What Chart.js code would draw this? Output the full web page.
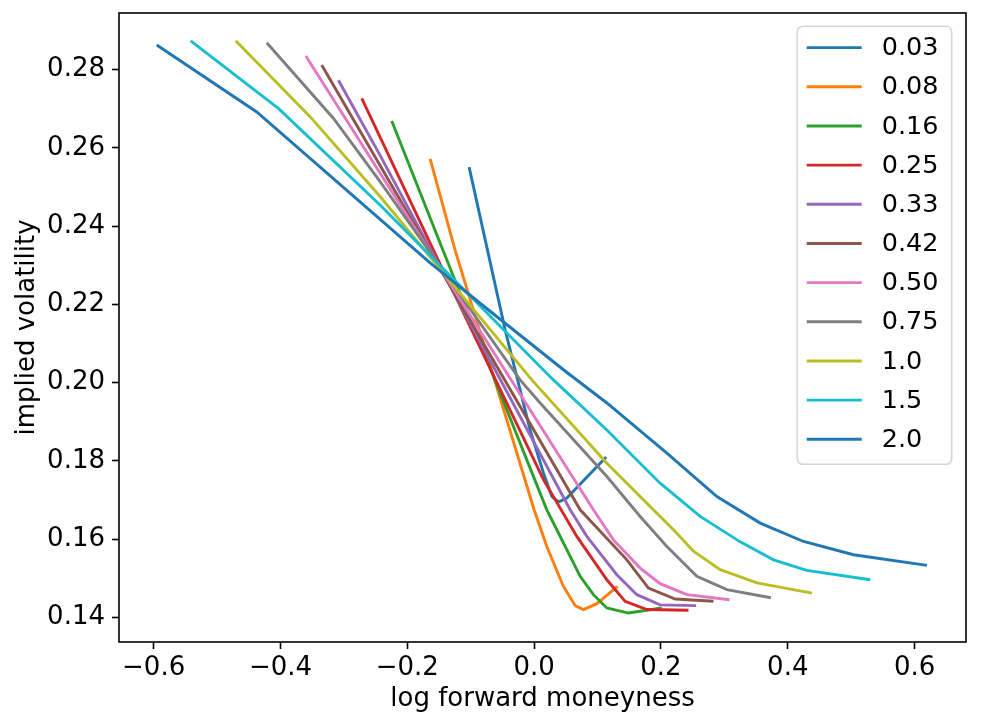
<!DOCTYPE html>
<html>
<head>
<meta charset="utf-8">
<script src="https://cdn.jsdelivr.net/npm/chart.js@4"></script>
<style>
html,body{margin:0;padding:0;background:#fff;}
#wrap{width:1002px;height:722px;position:relative;}
</style>
</head>
<body>
<div id="wrap"><canvas id="c"></canvas></div>
<script>
// ---- data ----
const maturities = ["0.03","0.08","0.16","0.25","0.33","0.42","0.50","0.75","1.0","1.5","2.0"];

const x_003 = [-0.1025,-0.0457,-0.0063,0.0147,0.0279,0.0383,0.0516,0.1136];
const y_003 = [0.2551,0.2135,0.1879,0.1769,0.1709,0.1695,0.1705,0.1810];

const x_008 = [-0.164,-0.1246,0.0,0.02,0.0462,0.0647,0.0778,0.0989,0.1314];
const y_008 = [0.2572,0.2339,0.1675,0.1581,0.1479,0.1430,0.1420,0.1435,0.1479];

const x_016 = [-0.2245,-0.1439,0.02,0.0358,0.0726,0.0935,0.1147,0.1488,0.2014];
const y_016 = [0.2669,0.2339,0.1675,0.1624,0.1505,0.1458,0.1424,0.1411,0.1424];

const x_025 = [-0.2718,-0.1588,0.0147,0.0673,0.1147,0.1435,0.1778,0.2434];
const y_025 = [0.2727,0.2339,0.1752,0.1607,0.1496,0.1441,0.1420,0.1418];

const x_033 = [-0.3086,-0.2429,0.0568,0.0831,0.1304,0.162,0.1987,0.2555];
const y_033 = [0.2773,0.2581,0.1675,0.1607,0.1509,0.1458,0.1432,0.1430];

const x_042 = [-0.335,0.0726,0.0946,0.1462,0.1803,0.2224,0.2828];
const y_042 = [0.2812,0.1675,0.1637,0.1547,0.1475,0.1447,0.1441];

const x_050 = [-0.360,0.0935,0.1251,0.1672,0.1987,0.2408,0.308];
const y_050 = [0.2835,0.1675,0.1598,0.1526,0.1486,0.1458,0.1445];

const x_075 = [-0.4216,-0.3166,-0.2429,-0.0221,0.0095,0.1147,0.1672,0.2093,0.2566,0.3039,0.3733];
const y_075 = [0.2869,0.2676,0.2514,0.2007,0.1948,0.1760,0.1658,0.1581,0.1505,0.1471,0.1450];

const x_100 = [-0.4705,-0.3533,-0.2429,-0.0036,0.1147,0.1672,0.2197,0.2513,0.2934,0.3513,0.438];
const y_100 = [0.2874,0.2680,0.2476,0.2007,0.1794,0.1709,0.1624,0.1569,0.1522,0.1488,0.1462];

const x_150 = [-0.5415,-0.4033,-0.2429,0.0304,0.1147,0.1987,0.2618,0.325,0.3775,0.430,0.530];
const y_150 = [0.2874,0.2701,0.2454,0.2007,0.1879,0.1743,0.1658,0.1593,0.1547,0.1520,0.1496];

const x_200 = [-0.5951,-0.4374,-0.164,-0.0852,0.0462,0.1147,0.2093,0.2882,0.3565,0.4248,0.5036,0.6194];
const y_200 = [0.2863,0.2692,0.2306,0.2203,0.2033,0.1948,0.1820,0.1709,0.1641,0.1594,0.1560,0.1533];

const xTicks = [-0.6,-0.4,-0.2,0.0,0.2,0.4,0.6];
const yTicks = [0.14,0.16,0.18,0.20,0.22,0.24,0.26,0.28];
const xTickLabels = ["\u22120.6","\u22120.4","\u22120.2","0.0","0.2","0.4","0.6"];
const yTickLabels = ["0.14","0.16","0.18","0.20","0.22","0.24","0.26","0.28"];

const colors = ["#1f77b4","#ff7f0e","#2ca02c","#d62728","#9467bd","#8c564b","#e377c2","#7f7f7f","#bcbd22","#17becf","#1f77b4"];

const seriesX = [x_003,x_008,x_016,x_025,x_033,x_042,x_050,x_075,x_100,x_150,x_200];
const seriesY = [y_003,y_008,y_016,y_025,y_033,y_042,y_050,y_075,y_100,y_150,y_200];

const FONT = "'DejaVu Sans', 'Liberation Sans', sans-serif";
const FS = 26;
const LFS = 25.5;
const LW = 2.9;

const datasets = maturities.map((m,i)=>({
  label: m,
  data: seriesX[i].map((x,k)=>({x:x, y:seriesY[i][k]})),
  borderColor: colors[i],
  backgroundColor: colors[i],
  borderWidth: LW,
  pointRadius: 0,
  pointHoverRadius: 0,
  tension: 0,
  fill: false,
  order: maturities.length - i
}));

const framePlugin = {
  id: 'frame',
  afterDatasetsDraw(chart){
    const {ctx, chartArea:a} = chart;
    ctx.save();
    ctx.strokeStyle = '#000';
    ctx.lineWidth = 1.6;
    ctx.strokeRect(a.left, a.top, a.right - a.left, a.bottom - a.top);
    ctx.restore();
  }
};

const legendPlugin = {
  id: 'innerLegend',
  afterDraw(chart){
    const {ctx, chartArea:a} = chart;
    const w = 154.4, h = 438;
    const x0 = a.right - 14.3 - w, y0 = a.top + 13.3;
    const r = 6;
    ctx.save();
    ctx.beginPath();
    ctx.moveTo(x0+r,y0);
    ctx.lineTo(x0+w-r,y0); ctx.quadraticCurveTo(x0+w,y0,x0+w,y0+r);
    ctx.lineTo(x0+w,y0+h-r); ctx.quadraticCurveTo(x0+w,y0+h,x0+w-r,y0+h);
    ctx.lineTo(x0+r,y0+h); ctx.quadraticCurveTo(x0,y0+h,x0,y0+h-r);
    ctx.lineTo(x0,y0+r); ctx.quadraticCurveTo(x0,y0,x0+r,y0);
    ctx.closePath();
    ctx.fillStyle = 'rgba(255,255,255,0.8)';
    ctx.fill();
    ctx.strokeStyle = '#d6d6d6';
    ctx.lineWidth = 1.6;
    ctx.stroke();
    const rowH = 39.17;
    const firstY = y0 + 21.3;
    ctx.font = LFS + "px " + FONT;
    ctx.textBaseline = 'middle';
    ctx.textAlign = 'left';
    chart.data.datasets.forEach((ds,i)=>{
      const yy = firstY + i*rowH;
      ctx.beginPath();
      ctx.strokeStyle = ds.borderColor;
      ctx.lineWidth = LW;
      ctx.moveTo(x0+9.4, yy);
      ctx.lineTo(x0+64.4, yy);
      ctx.stroke();
      ctx.fillStyle = '#000';
      ctx.fillText(ds.label, x0+84.4, yy+1);
    });
    ctx.restore();
  }
};

new Chart(document.getElementById('c'), {
  type: 'line',
  data: { datasets },
  options: {
    responsive: true,
    maintainAspectRatio: false,
    animation: false,
    devicePixelRatio: 1,
    layout: { padding: { top: 13, right: 36, left: 0, bottom: 0 } },
    plugins: { legend: { display: false }, tooltip: { enabled: false } },
    scales: {
      x: {
        type: 'linear',
        min: -0.6546, max: 0.681,
        afterFit(s){ s.height = 80; s.paddingLeft = 0; s.paddingRight = 0; },
        afterBuildTicks(s){ s.ticks = xTicks.map(v=>({value:v})); },
        border: { display: false },
        grid: { display: true, drawOnChartArea: false, drawTicks: true, tickLength: 7, tickWidth: 1.6, tickColor: '#000' },
        ticks: {
          color: '#000', padding: 4, maxRotation: 0, autoSkip: false,
          font: { family: FONT, size: FS },
          callback(v){ const i = xTicks.findIndex(t=>Math.abs(t-v)<1e-9); return i>=0 ? xTickLabels[i] : ''; }
        },
        title: { display: true, text: 'log forward moneyness', color: '#000', font: { family: FONT, size: FS }, padding: { top: 0, bottom: 7 } }
      },
      y: {
        type: 'linear',
        min: 0.1337, max: 0.2945,
        afterFit(s){ s.width = 119; s.paddingTop = 0; s.paddingBottom = 0; },
        afterBuildTicks(s){ s.ticks = yTicks.map(v=>({value:v})); },
        border: { display: false },
        grid: { display: true, drawOnChartArea: false, drawTicks: true, tickLength: 7, tickWidth: 1.6, tickColor: '#000' },
        ticks: {
          color: '#000', padding: 7, autoSkip: false,
          font: { family: FONT, size: FS },
          callback(v){ const i = yTicks.findIndex(t=>Math.abs(t-v)<1e-9); return i>=0 ? yTickLabels[i] : ''; }
        },
        title: { display: true, text: 'implied volatility', color: '#000', font: { family: FONT, size: FS }, padding: { top: 12, bottom: 0 } }
      }
    }
  },
  plugins: [framePlugin, legendPlugin]
});
</script>
</body>
</html>
